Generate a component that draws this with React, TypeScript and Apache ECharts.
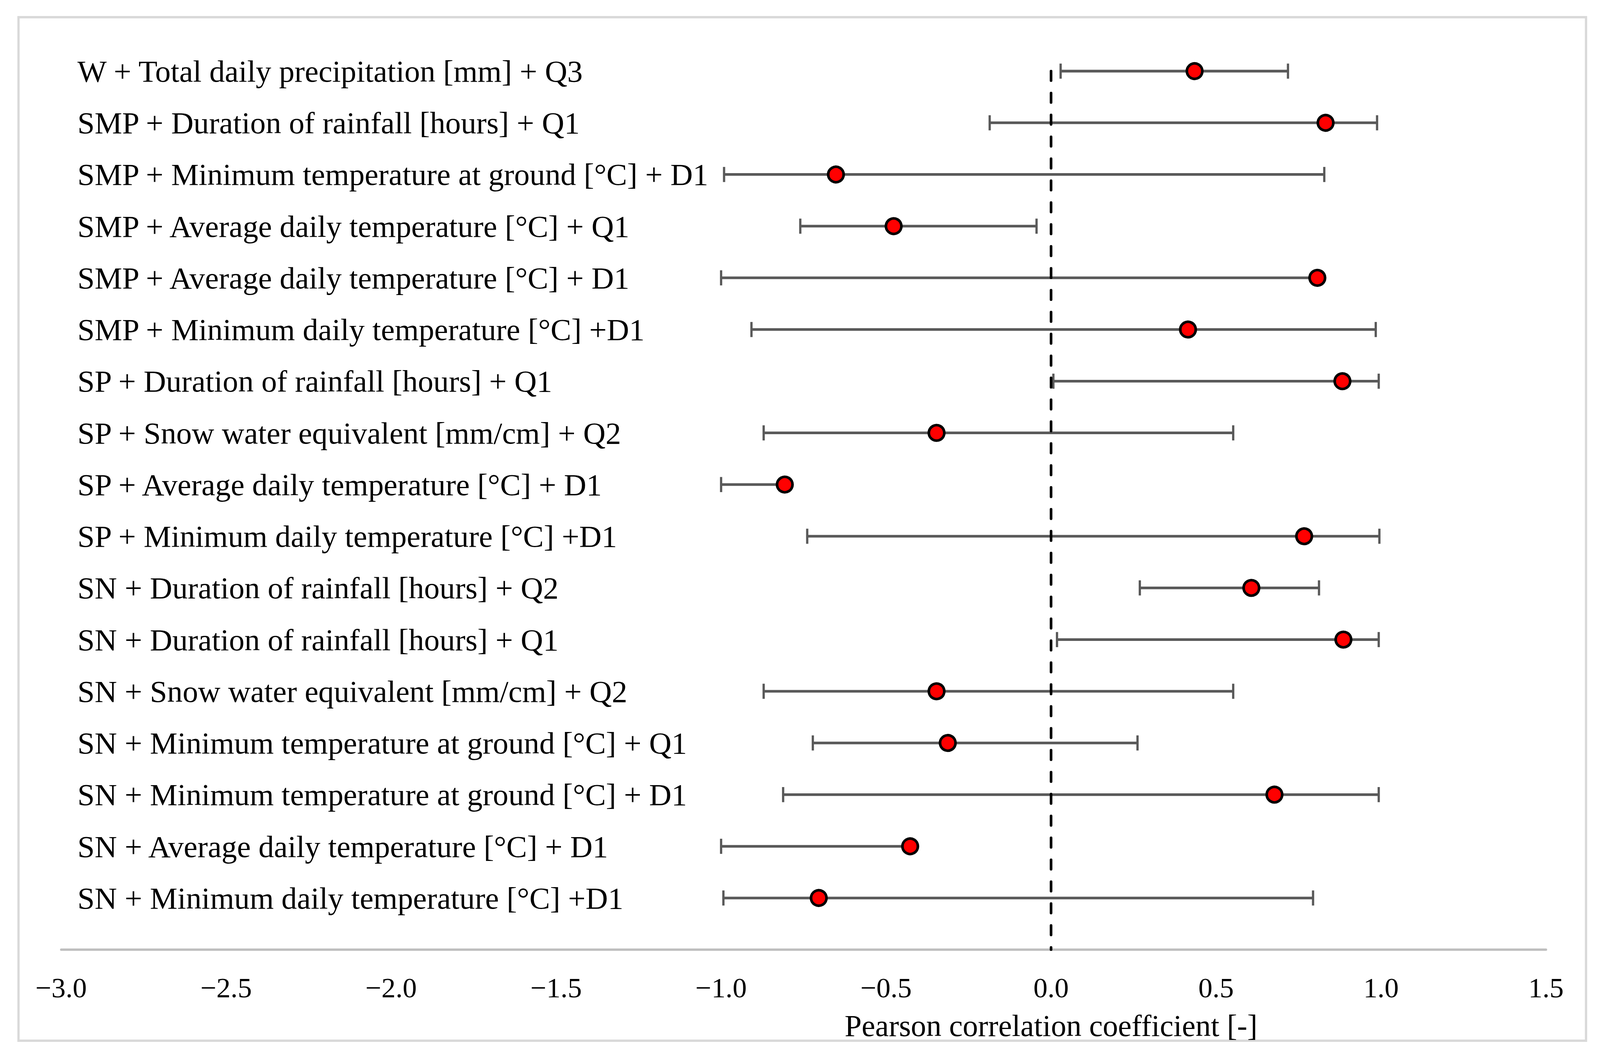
import React, { useEffect, useRef } from "react";
import * as echarts from "echarts";

const labels: string[] = [
  "W + Total daily precipitation [mm] + Q3",
  "SMP + Duration of rainfall [hours] + Q1",
  "SMP + Minimum temperature at ground [°C] + D1",
  "SMP + Average daily temperature [°C] + Q1",
  "SMP + Average daily temperature [°C] + D1",
  "SMP + Minimum daily temperature [°C] +D1",
  "SP + Duration of rainfall [hours] + Q1",
  "SP + Snow water equivalent [mm/cm] + Q2",
  "SP + Average daily temperature [°C] + D1",
  "SP + Minimum daily temperature [°C] +D1",
  "SN + Duration of rainfall [hours] + Q2",
  "SN + Duration of rainfall [hours] + Q1",
  "SN + Snow water equivalent [mm/cm] + Q2",
  "SN + Minimum temperature at ground [°C] + Q1",
  "SN + Minimum temperature at ground [°C] + D1",
  "SN + Average daily temperature [°C] + D1",
  "SN + Minimum daily temperature [°C] +D1",
];

const values: number[] = [
  0.435, 0.832, -0.652, -0.477, 0.807, 0.415, 0.883, -0.347, -0.807, 0.767,
  0.607, 0.886, -0.347, -0.313, 0.677, -0.427, -0.704,
];

const lower: number[] = [
  0.029, -0.186, -0.991, -0.76, -1.0, -0.908, 0.007, -0.871, -1.0, -0.739,
  0.269, 0.018, -0.871, -0.722, -0.812, -1.0, -0.993,
];

const upper: number[] = [
  0.718, 0.988, 0.828, -0.044, 0.807, 0.984, 0.993, 0.552, -0.807, 0.995,
  0.812, 0.993, 0.552, 0.262, 0.993, -0.427, 0.794,
];

const xMin = -3;
const xMax = 1.5;
const xStep = 0.5;
const axisTitle = "Pearson correlation coefficient [-]";

export default function App() {
  const ref = useRef<HTMLDivElement>(null);

  useEffect(() => {
    const el = ref.current!;
    const W = el.clientWidth || window.innerWidth;
    const H = el.clientHeight || window.innerHeight;
    const sx = W / 4238;
    const sy = H / 2697;
    const s = Math.min(sx, sy);
    const chart = echarts.init(el, null, { renderer: "svg", width: W, height: H });
    const font = "'Liberation Serif', 'Times New Roman', serif";
    const tickLH = 62 * sy;

    chart.setOption({
      animation: false,
      backgroundColor: "#ffffff",
      grid: { left: 162 * sx, right: 143 * sx, top: 182 * sy, bottom: 267 * sy },
      xAxis: {
        type: "value",
        min: xMin,
        max: xMax,
        interval: xStep,
        axisLine: { show: true, onZero: false, lineStyle: { color: "#bfbfbf", width: 6 * s } },
        axisTick: { show: false },
        splitLine: { show: false },
        axisLabel: {
          color: "#000",
          fontFamily: font,
          fontSize: 75 * s,
          lineHeight: tickLH,
          margin: 97 * sy - tickLH / 2,
          formatter: (v: number) => v.toFixed(1).replace("-", "−"),
        },
      },
      yAxis: {
        type: "value",
        min: 0,
        max: labels.length,
        interval: 1,
        inverse: true,
        axisLine: { show: false },
        axisTick: { show: false },
        splitLine: { show: false },
        axisLabel: {
          align: "left",
          margin: -43 * sx,
          color: "#000",
          fontFamily: font,
          fontSize: 82 * s,
          formatter: (v: number) => labels[v] ?? "",
        },
      },
      series: [
        {
          type: "custom",
          z: 2,
          data: labels.map((_, i) => [lower[i], upper[i], i]),
          encode: { x: [0, 1], y: 2 },
          renderItem: (params: any, api: any) => {
            const lo = api.coord([api.value(0), api.value(2)]);
            const hi = api.coord([api.value(1), api.value(2)]);
            const h = 20 * s;
            const style = { stroke: "#595959", lineWidth: 7 * s, fill: null };
            const capStyle = { stroke: "#595959", lineWidth: 6 * s, fill: null };
            return {
              type: "group",
              children: [
                { type: "line", shape: { x1: lo[0], y1: lo[1], x2: hi[0], y2: hi[1] }, style },
                { type: "line", shape: { x1: lo[0], y1: lo[1] - h, x2: lo[0], y2: lo[1] + h }, style: capStyle },
                { type: "line", shape: { x1: hi[0], y1: hi[1] - h, x2: hi[0], y2: hi[1] + h }, style: capStyle },
              ],
            };
          },
        },
        {
          type: "line",
          z: 3,
          data: [
            [0, 0],
            [0, labels.length],
          ],
          symbol: "none",
          lineStyle: { color: "#000", width: 7 * s, type: [25 * s, 33 * s], cap: "round" },
        },
        {
          type: "scatter",
          z: 4,
          data: values.map((v, i) => [v, i]),
          symbol: "circle",
          symbolSize: 41 * s,
          itemStyle: { color: "#ff0000", borderColor: "#000", borderWidth: 7 * s, opacity: 1 },
        },
      ],
    });

    const zeroX = chart.convertToPixel({ xAxisIndex: 0 }, 0) as number;
    chart.setOption({
      graphic: [
        {
          type: "rect",
          shape: { x: 49 * sx, y: 44 * sy, width: 4152 * sx, height: 2619 * sy },
          style: { fill: "none", stroke: "#d9d9d9", lineWidth: 6 * s },
          silent: true,
          z: 0,
        },
        {
          type: "text",
          x: zeroX,
          y: 2624 * sy,
          style: {
            text: axisTitle,
            fill: "#000",
            font: `${81 * s}px ${font}`,
            lineHeight: 66 * sy,
            textAlign: "center",
            textVerticalAlign: "middle",
          },
        },
      ],
    });

    return () => chart.dispose();
  }, []);

  return (
    <div
      ref={ref}
      style={{ position: "fixed", left: 0, top: 0, width: "100vw", height: "100vh" }}
    />
  );
}
